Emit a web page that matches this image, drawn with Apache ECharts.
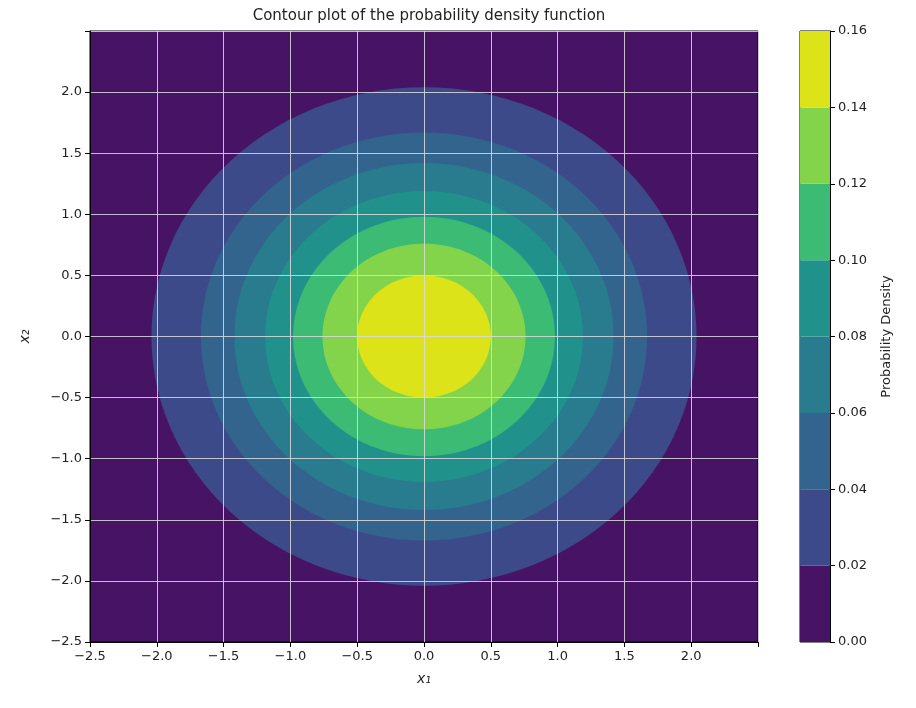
<!DOCTYPE html>
<html>
<head>
  <meta charset="UTF-8">
  <title>Contour plot</title>
  <style>html,body{margin:0;padding:0;background:#fff}</style>
</head>
<body>
<div id="main" style="width:916px;height:708px;"></div>
<script src="https://cdn.jsdelivr.net/npm/echarts@6/dist/echarts.min.js"></script>
<script>
  // contour levels (lower bound of each band) and band colours
  var levels = [0.00, 0.02, 0.04, 0.06, 0.08, 0.10, 0.12, 0.14]
  var bandColors = ['#471365', '#3d4a89', '#32648e', '#297b8e', '#21918c', '#3cbb75', '#84d44b', '#dce319']
  // outer radius of each band above 0.02 (x1/x2 units)
  var bandRadii = [2.04, 1.67, 1.42, 1.19, 0.98, 0.76, 0.5]
  var center = [0, 0]

  function fmt(v) {
    if (Math.abs(v - 2.5) < 1e-9) return ''
    var s = Math.abs(v).toFixed(1)
    return v < 0 ? '\u2212' + s : s
  }

  var myChart = echarts.init(document.getElementById('main'))
  var font = 'DejaVu Sans'
  var bandData = bandRadii.map(function (r, i) { return [r, i + 1] })

  var option = {
    animation: false,
    textStyle: { fontFamily: font },
    title: {
      text: 'Contour plot of the probability density function',
      left: 424, top: 4, textAlign: 'center',
      textStyle: { fontSize: 15, fontWeight: 'normal', color: '#222' }
    },
    grid: [
      { left: 90, right: 158, top: 31, bottom: 66, backgroundColor: bandColors[0], show: true, borderWidth: 1, borderColor: '#000' },
      { left: 800, right: 86, top: 31, bottom: 66, show: true, borderWidth: 1, borderColor: '#000' }
    ],
    xAxis: [{
      type: 'value', min: -2.5, max: 2.5, interval: 0.5, z: 5,
      name: 'x\u2081', nameLocation: 'middle', nameGap: 30,
      nameTextStyle: { fontStyle: 'italic', fontSize: 14, color: '#222' },
      axisLine: { onZero: false, lineStyle: { color: '#000' } },
      axisTick: { show: true, lineStyle: { color: '#000' } },
      axisLabel: { formatter: fmt, color: '#222', fontSize: 13 },
      splitLine: { show: true, lineStyle: { color: 'rgba(220,220,220,0.85)', width: 1 } }
    }, {
      gridIndex: 1, type: 'category', data: ['a'], show: false
    }],
    yAxis: [{
      type: 'value', min: -2.5, max: 2.5, interval: 0.5, z: 5,
      name: 'x\u2082', nameLocation: 'middle', nameGap: 58,
      nameTextStyle: { fontStyle: 'italic', fontSize: 14, color: '#222' },
      axisLine: { show: true, onZero: false, lineStyle: { color: '#000' } },
      axisTick: { show: true, lineStyle: { color: '#000' } },
      axisLabel: { formatter: fmt, color: '#222', fontSize: 13 },
      splitLine: { show: true, lineStyle: { color: 'rgba(220,220,220,0.85)', width: 1 } }
    }, {
      gridIndex: 1, type: 'value', position: 'right', min: 0, max: 0.16, interval: 0.02,
      name: 'Probability Density', nameLocation: 'middle', nameGap: 50, nameRotate: 90,
      nameTextStyle: { fontSize: 13, color: '#222' },
      axisLine: { show: true, onZero: false, lineStyle: { color: '#000' } },
      axisTick: { show: true, lineStyle: { color: '#000' } },
      axisLabel: { formatter: function (v) { return v.toFixed(2) }, color: '#222', fontSize: 13 },
      splitLine: { show: false }
    }],
    series: [{
      type: 'custom', xAxisIndex: 0, yAxisIndex: 0, z: 1,
      data: bandData,
      clip: true,
      renderItem: function (params, api) {
        var r = api.value(0), idx = api.value(1)
        var pts = []
        for (var a = 0; a < 360; a += 3) {
          var t = a * Math.PI / 180
          pts.push(api.coord([center[0] + r * Math.cos(t), center[1] + r * Math.sin(t)]))
        }
        return { type: 'polygon', shape: { points: pts }, style: { fill: bandColors[idx] } }
      }
    }].concat(levels.map(function (lv, i) {
      return {
        type: 'bar', xAxisIndex: 1, yAxisIndex: 1, stack: 'cb', barWidth: '100%',
        data: [0.02], itemStyle: { color: bandColors[i] }, silent: true
      }
    }))
  }
  myChart.setOption(option)
</script>
</body>
</html>
